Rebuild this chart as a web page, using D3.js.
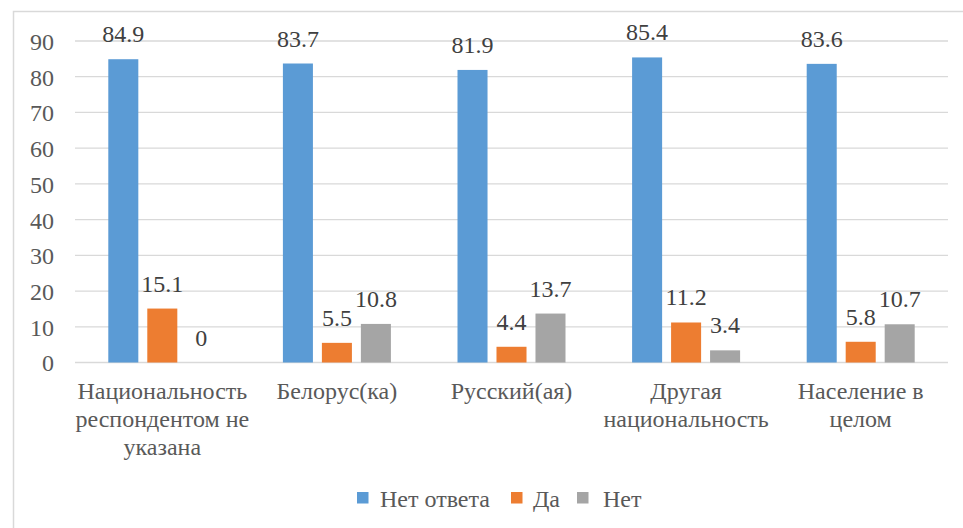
<!DOCTYPE html>
<html><head><meta charset="utf-8">
<script src="https://cdn.jsdelivr.net/npm/d3@7"></script>
<style>body{margin:0;background:#fff}svg{display:block}</style>
</head><body>
<svg id="c" width="963" height="528"></svg>
<script>
const categories = [["Национальность","респондентом не","указана"],["Белорус(ка)"],["Русский(ая)"],["Другая","национальность"],["Население в","целом"]];
const seriesNames = ["Нет ответа","Да","Нет"];
const colors = ["#5B9BD5","#ED7D31","#A5A5A5"];
const noAnswer = [84.9,83.7,81.9,85.4,83.6];
const yes = [15.1,5.5,4.4,11.2,5.8];
const no = [0,10.8,13.7,3.4,10.7];
const yTicks = [0,10,20,30,40,50,60,70,80,90];

const series = [noAnswer, yes, no];
const svg = d3.select("#c");

svg.append("rect").attr("x",13.5).attr("y",11.5).attr("width",990).attr("height",540)
  .attr("fill","none").attr("stroke","#D9D9D9").attr("stroke-width",1.5);

const x0 = d3.scaleBand().domain(d3.range(categories.length)).range([75,948]);
const y = d3.scaleLinear().domain([0,90]).range([362.5,41]);
const x1 = d3.scaleBand().domain(d3.range(3)).range([-54,54]).paddingInner(0.23);

const grid = svg.append("g");
grid.selectAll("line").data(yTicks).join("line")
  .attr("x1",75).attr("x2",948).attr("y1",d=>y(d)).attr("y2",d=>y(d))
  .attr("stroke","#D9D9D9").attr("stroke-width",1.3);

const yAxis = svg.append("g").attr("transform","translate(54,0)")
  .call(d3.axisLeft(y).tickValues(yTicks).tickSize(0).tickPadding(0));
yAxis.select(".domain").remove();
yAxis.attr("font-family",null).attr("font-size",null);
yAxis.selectAll("text").attr("font-size",24).attr("fill","#595959").attr("dy","0.35em");

const groups = svg.append("g").selectAll("g").data(categories).join("g")
  .attr("transform",(d,i)=>`translate(${x0(i)+x0.bandwidth()/2},0)`);

series.forEach((vals,s)=>{
  groups.append("rect")
    .attr("x",x1(s)).attr("width",x1.bandwidth())
    .attr("y",(d,i)=>y(vals[i])).attr("height",(d,i)=>y(0)-y(vals[i]))
    .attr("fill",colors[s]);
  groups.append("text")
    .attr("x",x1(s)+x1.bandwidth()/2).attr("y",(d,i)=>y(vals[i])-17)
    .attr("text-anchor","middle").attr("font-size",24).attr("fill","#404040")
    .text((d,i)=>vals[i]);
});

groups.append("text").attr("text-anchor","middle").attr("font-size",24).attr("fill","#595959")
  .selectAll("tspan").data(d=>d).join("tspan").attr("x",0).attr("y",(d,i)=>399+i*28).text(d=>d);

const legendX = [357,511,577];
const lg = svg.append("g").selectAll("g").data(seriesNames).join("g")
  .attr("transform",(d,i)=>`translate(${legendX[i]},0)`);
lg.append("rect").attr("x",0).attr("y",492).attr("width",11.5).attr("height",11.5).attr("fill",(d,i)=>colors[i]);
lg.append("text").attr("x",(d,i)=>[23,22,26][i]).attr("y",507).attr("font-size",24).attr("fill","#595959").text(d=>d);
</script>
</body></html>
